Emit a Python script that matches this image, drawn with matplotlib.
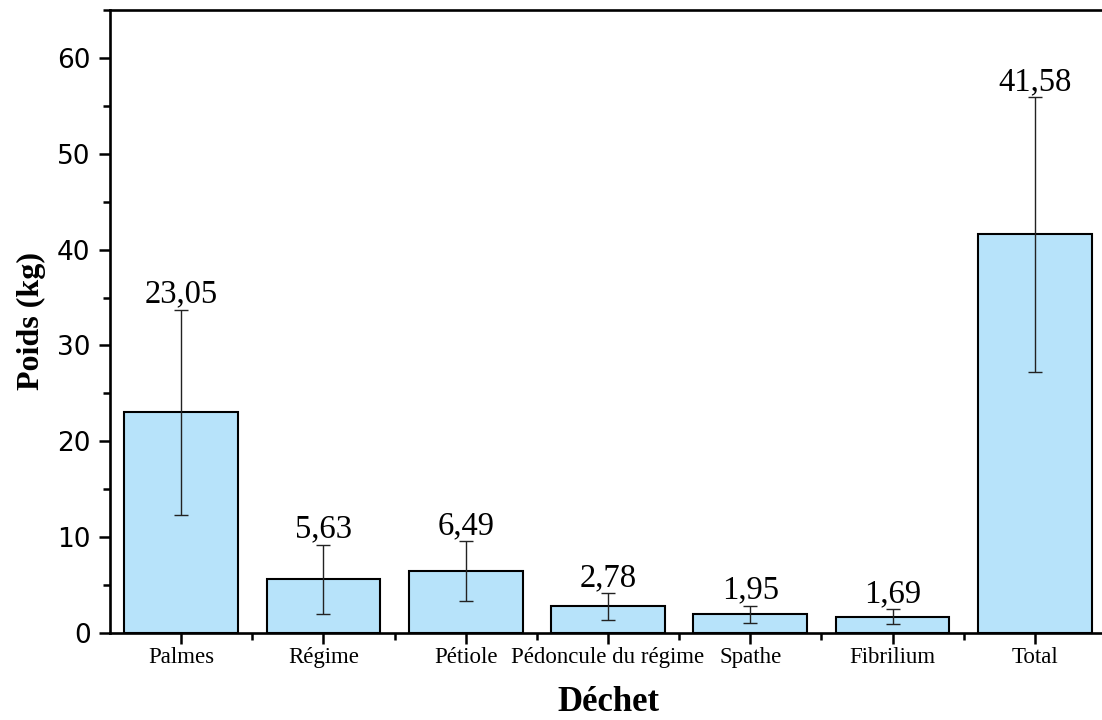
import matplotlib
matplotlib.use("Agg")
import matplotlib.pyplot as plt
from matplotlib.ticker import MultipleLocator, FixedLocator
import numpy as np

# Waste categories and mean weights (kg) with standard deviations
categories = ["Palmes", "Régime", "Pétiole", "Pédoncule du régime", "Spathe", "Fibrilium", "Total"]
weights = [23.05, 5.63, 6.49, 2.78, 1.95, 1.69, 41.58]
std_dev = [10.7, 3.6, 3.1, 1.4, 0.9, 0.78, 14.3]
value_labels = ["23,05", "5,63", "6,49", "2,78", "1,95", "1,69", "41,58"]

serif = "Liberation Serif"
sans = "DejaVu Sans"

fig = plt.figure(figsize=(11.02, 7.2), dpi=100)
ax = fig.add_axes([110 / 1102, 1 - 633 / 720, 996 / 1102, 623 / 720])

x = np.arange(len(categories))
ax.bar(x, weights, width=0.8, color="#b7e3fa", edgecolor="black", linewidth=1.5, zorder=2)
ax.errorbar(x, weights, yerr=std_dev, fmt="none", ecolor="#222222", elinewidth=1.0,
            capsize=4.7, capthick=1.0, zorder=3)

for xi, w, s, lab in zip(x, weights, std_dev, value_labels):
    ax.annotate(lab, (xi, w + s), xytext=(0, 0), textcoords="offset points",
                ha="center", va="bottom", fontsize=23.5, family=serif)

ax.set_xlim(-0.5, len(categories) - 0.5)
ax.set_ylim(0, 65)

ax.yaxis.set_minor_locator(MultipleLocator(5))
ax.set_yticks([0, 10, 20, 30, 40, 50, 60])
ax.set_xticks(x)
ax.set_xticklabels(categories, family=serif, fontsize=16.5)
ax.xaxis.set_minor_locator(FixedLocator(x[:-1] + 0.5))

for lbl in ax.get_yticklabels():
    lbl.set_family(sans)
    lbl.set_fontsize(19)

ax.tick_params(axis="both", which="major", direction="out", length=8, width=1.8)
ax.tick_params(axis="both", which="minor", direction="out", length=5, width=1.8)
ax.tick_params(axis="x", which="major", pad=2)
ax.tick_params(axis="y", which="major", pad=6)

for sp in ax.spines.values():
    sp.set_linewidth(1.9)

ax.set_ylabel("Poids (kg)", family=serif, fontsize=23, fontweight="bold", labelpad=8)
ax.set_xlabel("Déchet", family=serif, fontsize=25, fontweight="bold", labelpad=13)

fig.savefig("out.png", dpi=100)
